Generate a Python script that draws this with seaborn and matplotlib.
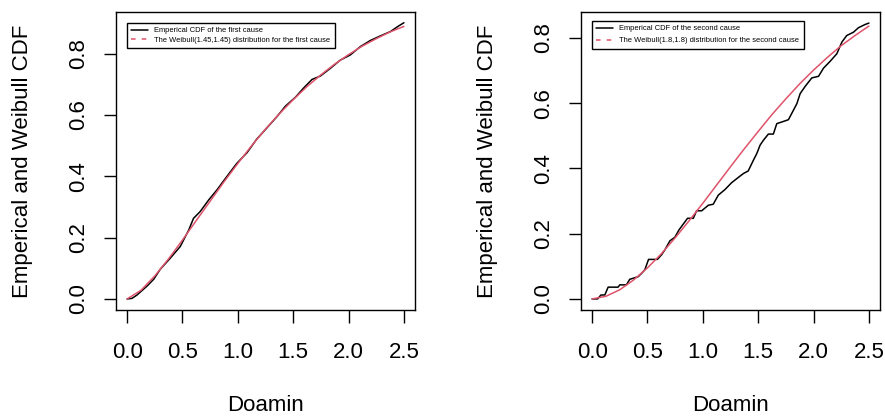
import numpy as np
import pandas as pd
import matplotlib
matplotlib.use("Agg")
import matplotlib.pyplot as plt
import seaborn as sns

# ---- data ----
# first cause: empirical CDF (dense steps, appears nearly smooth)
emp1_x = [0.0, 0.045, 0.09, 0.18, 0.24, 0.30, 0.39, 0.48, 0.557, 0.60, 0.66, 0.737,
          0.81, 0.90, 0.99, 1.083, 1.17, 1.26, 1.354, 1.43, 1.52, 1.594, 1.67,
          1.745, 1.835, 1.925, 2.016, 2.106, 2.196, 2.287, 2.377, 2.45, 2.5]
emp1_y = [0.0, 0.002, 0.013, 0.042, 0.064, 0.097, 0.133, 0.171, 0.225, 0.263, 0.285,
          0.323, 0.355, 0.399, 0.442, 0.477, 0.521, 0.557, 0.595, 0.629, 0.658,
          0.688, 0.716, 0.727, 0.752, 0.779, 0.796, 0.823, 0.843, 0.858, 0.872,
          0.890, 0.901]
# first cause: Weibull(1.45,1.45) curve
wb1_x = [0.0, 0.125, 0.25, 0.375, 0.5, 0.625, 0.75, 0.875, 1.0, 1.125, 1.25, 1.375,
         1.5, 1.625, 1.75, 1.875, 2.0, 2.125, 2.25, 2.375, 2.5]
wb1_y = [0.0, 0.028, 0.075, 0.131, 0.192, 0.256, 0.319, 0.382, 0.442, 0.500, 0.554,
         0.604, 0.650, 0.693, 0.731, 0.766, 0.797, 0.825, 0.849, 0.871, 0.889]

# second cause: empirical CDF (visible steps)
emp2_x = [0.0, 0.05, 0.08, 0.115, 0.145, 0.235, 0.25, 0.31, 0.34, 0.416, 0.446, 0.476,
          0.51, 0.59, 0.627, 0.657, 0.703, 0.748, 0.784, 0.823, 0.862, 0.914, 0.944,
          0.99, 1.05, 1.094, 1.14, 1.20, 1.26, 1.32, 1.366, 1.41, 1.457, 1.487,
          1.517, 1.547, 1.592, 1.637, 1.668, 1.713, 1.773, 1.818, 1.849, 1.879,
          1.924, 1.984, 2.045, 2.09, 2.15, 2.21, 2.256, 2.30, 2.36, 2.406, 2.467, 2.5]
emp2_y = [0.0, 0.0, 0.012, 0.012, 0.036, 0.036, 0.043, 0.043, 0.060, 0.068, 0.078,
          0.089, 0.121, 0.121, 0.135, 0.150, 0.178, 0.189, 0.211, 0.229, 0.247,
          0.247, 0.270, 0.270, 0.287, 0.290, 0.318, 0.335, 0.356, 0.372, 0.384,
          0.392, 0.425, 0.445, 0.471, 0.486, 0.505, 0.505, 0.537, 0.542, 0.549,
          0.578, 0.598, 0.629, 0.651, 0.677, 0.682, 0.707, 0.728, 0.751, 0.787,
          0.807, 0.817, 0.831, 0.841, 0.845]
# second cause: Weibull(1.8,1.8) curve
wb2_x = wb1_x
wb2_y = [0.0, 0.008, 0.028, 0.058, 0.095, 0.138, 0.187, 0.239, 0.293, 0.349, 0.405,
         0.460, 0.513, 0.565, 0.613, 0.659, 0.701, 0.740, 0.776, 0.807, 0.836]

x_ticks = [0.0, 0.5, 1.0, 1.5, 2.0, 2.5]
y_ticks = [0.0, 0.2, 0.4, 0.6, 0.8]
x_label = "Doamin"
y_label = "Emperical and Weibull CDF"
legend1 = ["Emperical CDF of the first cause",
           "The Weibull(1.45,1.45) distribution for the first cause"]
legend2 = ["Emperical CDF of the second cause",
           "The Weibull(1.8,1.8) distribution for the second cause"]

# ---- style ----
sns.set_theme(style="ticks")
plt.rcParams["font.family"] = ["Liberation Sans", "DejaVu Sans"]
plt.rcParams["axes.linewidth"] = 1.0
plt.rcParams["text.color"] = "black"
plt.rcParams["axes.labelcolor"] = "black"
RED = "#DF536B"
FS = 16

fig = plt.figure(figsize=(8.85, 4.16), dpi=100)
ax1 = fig.add_axes([116 / 885, 1 - 310 / 416, 299 / 885, 298 / 416])
ax2 = fig.add_axes([581 / 885, 1 - 310 / 416, 299 / 885, 298 / 416])


def panel(ax, ex, ey, wx, wy, ylim, labels, spacing, anchor_y):
    d_emp = pd.DataFrame({"x": ex, "y": ey})
    d_wb = pd.DataFrame({"x": wx, "y": wy})
    sns.lineplot(data=d_emp, x="x", y="y", ax=ax, color="black", lw=1.1,
                 estimator=None, sort=False, label=labels[0])
    sns.lineplot(data=d_wb, x="x", y="y", ax=ax, color=RED, lw=1.1,
                 estimator=None, sort=False, label=labels[1])
    ax.set_xlim(-0.1, 2.6)
    ax.set_ylim(*ylim)
    ax.set_xticks(x_ticks)
    ax.set_yticks(y_ticks)
    ax.set_xticklabels([f"{v:.1f}" for v in x_ticks])
    ax.set_yticklabels([f"{v:.1f}" for v in y_ticks])
    for s in ax.spines.values():
        s.set_visible(True)
        s.set_color("black")
        s.set_linewidth(1.0)
    ax.tick_params(axis="both", direction="out", length=9, width=1.0,
                   labelsize=FS, colors="black")
    ax.tick_params(axis="x", pad=14)
    ax.tick_params(axis="y", pad=10)
    for lbl in ax.get_yticklabels():
        lbl.set_rotation(90)
        lbl.set_va("center")
    ax.set_xlabel(x_label, fontsize=FS, color="black")
    ax.set_ylabel(y_label, fontsize=FS, color="black")
    ax.xaxis.set_label_coords(0.5, -0.285)
    ax.yaxis.set_label_coords(-0.278, 0.5)
    leg = ax.legend(loc="upper left", bbox_to_anchor=(0.037, anchor_y),
                    fontsize=5.4, frameon=True, fancybox=False,
                    edgecolor="black", framealpha=1, borderpad=0.55,
                    handlelength=2.2, handletextpad=0.9, labelspacing=spacing,
                    borderaxespad=0)
    leg.get_frame().set_linewidth(1.0)
    leg.get_lines()[1].set_dashes([3, 4])


panel(ax1, emp1_x, emp1_y, wb1_x, wb1_y, (-0.036, 0.936), legend1, 0.25, 0.963)
panel(ax2, emp2_x, emp2_y, wb2_x, wb2_y, (-0.034, 0.879), legend2, 0.65, 0.97)

fig.savefig("out.png", dpi=100)
